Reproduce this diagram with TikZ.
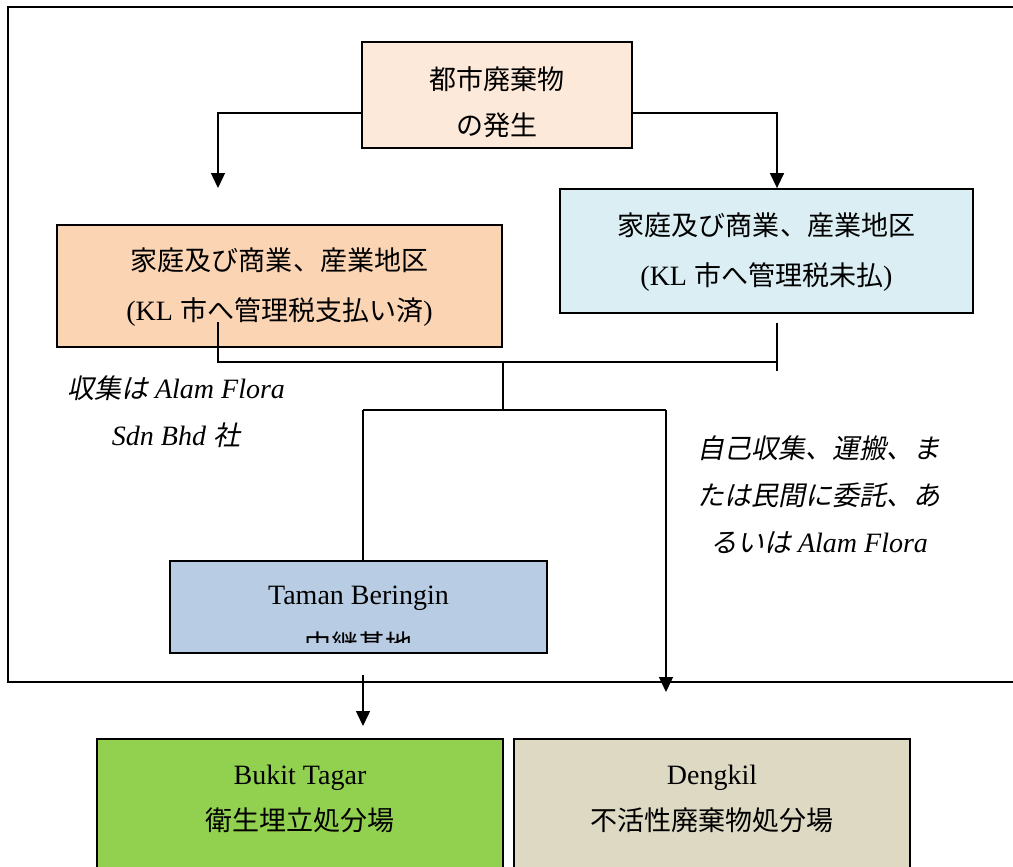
\documentclass[tikz,border=0pt]{standalone}
\usepackage{fontspec}
\setmainfont{Liberation Serif}
\newfontfamily\jp[Scale=0.965]{Noto Sans CJK JP}
\newfontfamily\jpit[Scale=0.965,FakeSlant=0.2]{Noto Sans CJK JP}
\usetikzlibrary{arrows.meta}
\definecolor{cTop}{HTML}{FDE9D9}
\definecolor{cLeft}{HTML}{FBD4B4}
\definecolor{cRight}{HTML}{DAEEF3}
\definecolor{cTaman}{HTML}{B8CCE4}
\definecolor{cGreen}{HTML}{92D050}
\definecolor{cTan}{HTML}{DDD9C3}
\tikzset{
  box/.style={draw, line width=1.8pt, inner sep=0pt, anchor=center},
  conn/.style={line width=1.4pt},
  arr/.style={conn, -{Triangle[length=15pt,width=14pt]}},
  lbl/.style={font=\fontsize{28}{50}\selectfont, align=center, inner sep=0pt},
  lbls/.style={font=\fontsize{28}{46}\selectfont, align=center, inner sep=0pt},
  note/.style={font=\fontsize{28}{47}\selectfont\itshape, align=center, inner sep=0pt}
}
\begin{document}
\begin{tikzpicture}[x=1pt,y=-1pt]
\useasboundingbox (0,0) rectangle (1013,867);
\clip (0,0) rectangle (1013,867);
\fill[white] (0,0) rectangle (1013,867);
% outer frame
\draw[line width=2pt] (8,7) rectangle (1040,682);
% boxes
\node[box, fill=cTop, minimum width=270pt, minimum height=106pt] (top) at (497,95) {};
\node[lbls] (toptext) at (497,102) {{\jp 都市廃棄物}\\{\jp の発生}};
\node[box, fill=cLeft, minimum width=445pt, minimum height=122pt] (lb) at (279.5,286) {};
\node[lbl] (lbtext) at (279.5,287) {{\jp 家庭及び商業、産業地区}\\(KL {\jp 市へ管理税支払い済})};
\node[box, fill=cRight, minimum width=413pt, minimum height=124pt] (rb) at (766.5,251) {};
\node[lbl] (rbtext) at (766.5,252) {{\jp 家庭及び商業、産業地区}\\(KL {\jp 市へ管理税未払})};
\node[box, fill=cTaman, minimum width=377pt, minimum height=92pt] (tb) at (358.5,607) {};
\begin{scope}
\clip (172,563) rectangle (545,642);
\node[lbl] (tbtext) at (358.5,621) {Taman Beringin\\{\jp 中継基地}};
\end{scope}
\node[box, fill=cGreen, minimum width=406pt, minimum height=200pt, anchor=north] (gb) at (300,738) {};
\node[lbls] (gbtext) at (300,799) {Bukit Tagar\\{\jp 衛生埋立処分場}};
\node[box, fill=cTan, minimum width=396pt, minimum height=200pt, anchor=north] (db) at (712,738) {};
\node[lbls] (dbtext) at (712,799) {Dengkil\\{\jp 不活性廃棄物処分場}};
% notes
\node[note] (n1) at (176,412) {{\jpit 収集は} Alam Flora\\Sdn Bhd {\jpit 社}};
\node[note] (n2) at (819,495) {{\jpit 自己収集、運搬、ま}\\{\jpit たは民間に委託、あ}\\{\jpit るいは} Alam Flora};
% coordinates
\coordinate (la) at (218,188);
\coordinate (j1) at (218,322);
\coordinate (j2) at (777,362);
\coordinate (j3) at (777,323);
\coordinate (j4) at (777,371);
\coordinate (m1) at (503,362);
\coordinate (m2) at (503,410);
\coordinate (h1) at (363,410);
\coordinate (h2) at (666,410);
\coordinate (d1) at (666,692);
\coordinate (t1) at (363,675);
\coordinate (t2) at (363,726);
% connectors
\draw[arr] ([yshift=-18pt]top.west) -| (la);
\draw[arr] ([yshift=-18pt]top.east) -| ([xshift=10.5pt]rb.north);
\draw[conn] (j1) |- (j2);
\draw[conn] (j3) -- (j4);
\draw[conn] (m1) -- (m2);
\draw[conn] (h1) -- (h2);
\draw[conn] (h1) -- (tb.north -| h1);
\draw[arr] (h2) -- (d1);
\draw[arr] (t1) -- (t2);
\end{tikzpicture}
\end{document}
